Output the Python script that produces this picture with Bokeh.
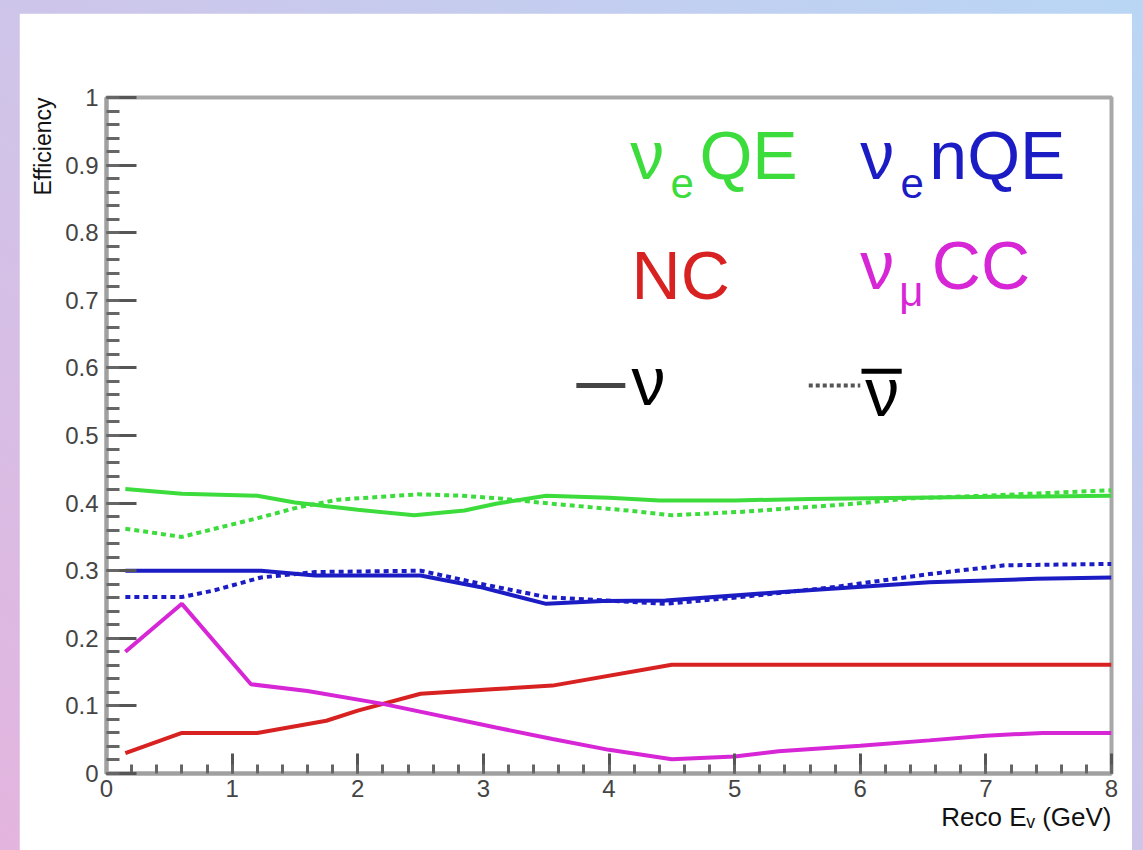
from bokeh.plotting import figure
from bokeh.layouts import column
from bokeh.models import Label, FixedTicker, Title
from bokeh.embed import file_html
from bokeh.resources import INLINE

# ---- data: efficiency vs reconstructed neutrino energy (GeV) ----
x_ticks = [0, 1, 2, 3, 4, 5, 6, 7, 8]
x_tick_labels = ["0", "1", "2", "3", "4", "5", "6", "7", "8"]
y_ticks = [0, 0.1, 0.2, 0.3, 0.4, 0.5, 0.6, 0.7, 0.8, 0.9, 1]
y_tick_labels = ["0", "0.1", "0.2", "0.3", "0.4", "0.5", "0.6", "0.7", "0.8", "0.9", "1"]

# nu_e QE
nueqe_nu_x = [0.15, 0.6, 1.2, 1.5, 2.0, 2.45, 2.85, 3.1, 3.5, 4.0, 4.4, 5.0, 5.6, 6.4, 8.0]
nueqe_nu_y = [0.421, 0.414, 0.411, 0.401, 0.39, 0.382, 0.389, 0.399, 0.411, 0.408, 0.404, 0.404, 0.406, 0.408, 0.411]
nueqe_nubar_x = [0.15, 0.6, 0.86, 1.23, 1.53, 1.84, 2.48, 2.82, 3.12, 3.55, 4.15, 4.5, 5.05, 5.95, 6.4, 7.0, 8.0]
nueqe_nubar_y = [0.362, 0.35, 0.362, 0.379, 0.394, 0.405, 0.413, 0.411, 0.407, 0.399, 0.389, 0.382, 0.387, 0.399, 0.407, 0.411, 0.419]

# nu_e non-QE
nuenqe_nu_x = [0.15, 0.6, 1.23, 1.66, 2.5, 2.97, 3.5, 3.95, 4.45, 5.35, 6.55, 7.4, 8.0]
nuenqe_nu_y = [0.30, 0.30, 0.30, 0.293, 0.293, 0.276, 0.251, 0.255, 0.256, 0.268, 0.283, 0.288, 0.290]
nuenqe_nubar_x = [0.15, 0.6, 0.86, 1.23, 1.66, 2.5, 2.97, 3.5, 4.45, 5.05, 5.8, 6.55, 7.15, 8.0]
nuenqe_nubar_y = [0.261, 0.261, 0.271, 0.29, 0.298, 0.30, 0.281, 0.261, 0.251, 0.261, 0.276, 0.295, 0.308, 0.31]

# neutral current
nc_x = [0.15, 0.6, 1.2, 1.75, 2.0, 2.5, 3.1, 3.55, 4.5, 8.0]
nc_y = [0.03, 0.06, 0.06, 0.078, 0.093, 0.118, 0.125, 0.13, 0.161, 0.161]

# nu_mu charged current
numucc_x = [0.15, 0.6, 1.15, 1.6, 2.2, 3.1, 3.55, 4.0, 4.5, 5.0, 5.35, 6.0, 6.55, 7.0, 7.45, 8.0]
numucc_y = [0.18, 0.251, 0.132, 0.122, 0.103, 0.068, 0.051, 0.035, 0.021, 0.025, 0.033, 0.041, 0.049, 0.056, 0.06, 0.06]

GREEN = "#3ddc3d"
BLUE = "#1c1cc4"
RED = "#d82222"
MAGENTA = "#d626d6"
FONT = "Liberation Sans"

p = figure(width=1113, height=837, x_range=(0, 8), y_range=(0, 1),
           output_backend="svg", toolbar_location=None,
           min_border_left=87, min_border_right=21, min_border_top=84, min_border_bottom=77,
           margin=(13, 11, 0, 19))
p.background_fill_color = "white"
p.border_fill_color = "white"
p.grid.visible = False
p.outline_line_color = "#a8a8a8"
p.outline_line_width = 4

# ROOT-style axes: ticks pointing into the frame
for ax in (p.xaxis[0], p.yaxis[0]):
    ax.axis_line_color = "#a0a0a0"
    ax.axis_line_width = 4
    ax.major_tick_out = 0
    ax.minor_tick_out = 0
    ax.major_tick_line_color = "#555555"
    ax.minor_tick_line_color = "#666666"
    ax.major_tick_line_width = 3
    ax.minor_tick_line_width = 3
    ax.major_label_text_font = FONT
    ax.major_label_text_font_size = "24px"
    ax.major_label_text_color = "#444444"

p.xaxis.ticker = FixedTicker(ticks=x_ticks, minor_ticks=[i * 0.2 for i in range(41)])
p.xaxis.major_label_overrides = {t: s for t, s in zip(x_ticks, x_tick_labels)}
p.xaxis.major_tick_in = 20
p.xaxis.minor_tick_in = 9
p.xaxis.major_label_standoff = 6

p.yaxis.ticker = FixedTicker(ticks=y_ticks, minor_ticks=[i * 0.02 for i in range(51)])
p.yaxis.major_label_overrides = {t: s for t, s in zip(y_ticks, y_tick_labels)}
p.yaxis.major_tick_in = 30
p.yaxis.minor_tick_in = 13
p.yaxis.major_label_standoff = 8

# axis titles, pushed to the far ends of the axes as ROOT does
p.add_layout(Title(text="Efficiency", align="right", text_font=FONT, text_font_size="23px",
                   text_font_style="normal", text_color="#111111", standoff=14), "left")
p.add_layout(Title(text="Reco Eᵥ (GeV)", align="right", text_font=FONT, text_font_size="26px",
                   text_font_style="normal", text_color="#111111", standoff=0), "below")

LW = 4
DOT = "5 4"
p.line(nueqe_nu_x, nueqe_nu_y, line_color=GREEN, line_width=LW)
p.line(nueqe_nubar_x, nueqe_nubar_y, line_color=GREEN, line_width=LW, line_dash=DOT)
p.line(nuenqe_nu_x, nuenqe_nu_y, line_color=BLUE, line_width=LW)
p.line(nuenqe_nubar_x, nuenqe_nubar_y, line_color=BLUE, line_width=LW, line_dash=DOT)
p.line(nc_x, nc_y, line_color=RED, line_width=LW)
p.line(numucc_x, numucc_y, line_color=MAGENTA, line_width=LW)


def txt(x, y, s, size, color="black", **kw):
    p.add_layout(Label(x=x, y=y, text=s, text_font=FONT, text_font_size=size,
                       text_color=color, text_baseline="alphabetic", **kw))


BIG = "68px"
SUB = "42px"
# channel legend
txt(4.17, 0.915, "ν", BIG, GREEN)
txt(4.49, 0.873, "e", SUB, GREEN)
txt(4.72, 0.915, "QE", BIG, GREEN)
txt(6.00, 0.915, "ν", BIG, BLUE)
txt(6.32, 0.873, "e", SUB, BLUE)
txt(6.55, 0.915, "nQE", BIG, BLUE)
txt(4.18, 0.737, "NC", BIG, RED)
txt(6.00, 0.752, "ν", BIG, MAGENTA)
txt(6.31, 0.713, "μ", SUB, MAGENTA)
txt(6.57, 0.752, "CC", BIG, MAGENTA)

# line-style legend
p.segment(x0=[3.74], y0=[0.574], x1=[4.13], y1=[0.574], line_color="#444444", line_width=5)
txt(4.18, 0.58, "ν", BIG)
p.segment(x0=[5.59], y0=[0.574], x1=[6.0], y1=[0.574], line_color="#555555", line_width=4, line_dash="4 3")
txt(6.04, 0.565, "ν", BIG)
p.segment(x0=[6.01], y0=[0.595], x1=[6.33], y1=[0.595], line_color="black", line_width=5)

page = column(p, width=1143, height=850,
              styles={"background": "linear-gradient(to top right, #e3b4de, #b9d6f5)"})
open("out.html", "w").write(file_html(page, INLINE))
